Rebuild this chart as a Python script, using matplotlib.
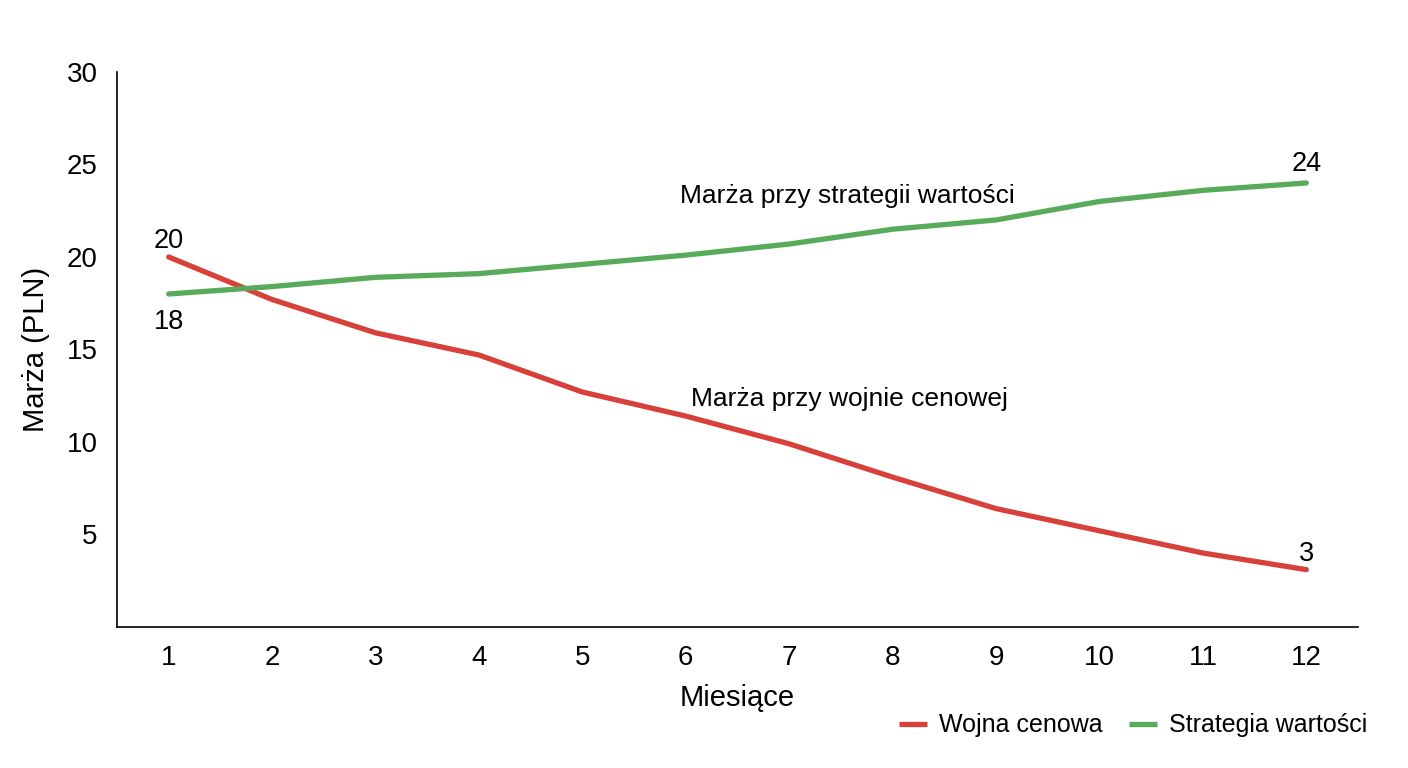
import matplotlib
matplotlib.use("Agg")
import matplotlib.pyplot as plt

months = [1, 2, 3, 4, 5, 6, 7, 8, 9, 10, 11, 12]
wojna = [20.0, 17.7, 15.9, 14.7, 12.7, 11.4, 9.9, 8.1, 6.4, 5.2, 4.0, 3.1]
wartosc = [18.0, 18.4, 18.9, 19.1, 19.6, 20.1, 20.7, 21.5, 22.0, 23.0, 23.6, 24.0]
yticks = [5, 10, 15, 20, 25, 30]

RED = "#d8403a"
GREEN = "#59ab5c"

plt.rcParams['font.family'] = ['Liberation Sans', 'DejaVu Sans']

fig = plt.figure(figsize=(14.08, 7.68), dpi=100)
ax = fig.add_axes([0.0831, 0.1836, 0.8814, 0.7227])

ax.plot(months, wojna, color=RED, lw=3.8, solid_capstyle='round', label="Wojna cenowa")
ax.plot(months, wartosc, color=GREEN, lw=3.8, solid_capstyle='round', label="Strategia wartości")

ax.set_xlim(0.5, 12.5)
ax.set_ylim(0, 30)
ax.set_xticks(months)
ax.set_yticks(yticks)
ax.tick_params(length=0, labelsize=20, pad=13)
ax.tick_params(axis='y', pad=14)
for s in ['top', 'right']:
    ax.spines[s].set_visible(False)
for s in ['left', 'bottom']:
    ax.spines[s].set_linewidth(1.2)

ax.set_xlabel("Miesiące", fontsize=21, labelpad=9.5)
ax.set_ylabel("Marża (PLN)", fontsize=21, labelpad=12)

fs = 19.5
ax.annotate(f"{wojna[0]:.0f}", (months[0], wojna[0]), xytext=(0, 2.5), textcoords='offset points',
            ha='center', va='bottom', fontsize=fs)
ax.annotate(f"{wartosc[0]:.0f}", (months[0], wartosc[0]), xytext=(0, -11), textcoords='offset points',
            ha='center', va='top', fontsize=fs)
ax.annotate(f"{wartosc[-1]:.0f}", (months[-1], wartosc[-1]), xytext=(0, 4), textcoords='offset points',
            ha='center', va='bottom', fontsize=fs)
ax.annotate(f"{wojna[-1]:.0f}", (months[-1], wojna[-1]), xytext=(0, 2), textcoords='offset points',
            ha='center', va='bottom', fontsize=fs)

ax.text(7.56, 23.3, "Marża przy strategii wartości", ha='center', va='center', fontsize=19)
ax.text(7.58, 12.3, "Marża przy wojnie cenowej", ha='center', va='center', fontsize=19)

leg = ax.legend(loc='upper right', bbox_to_anchor=(1.0255, -0.115), ncol=2, frameon=False,
                fontsize=18, handlelength=1.12, columnspacing=1.04, handletextpad=0.48)
for h in leg.get_lines():
    h.set_solid_capstyle('butt')

fig.savefig("out.png", dpi=100)
